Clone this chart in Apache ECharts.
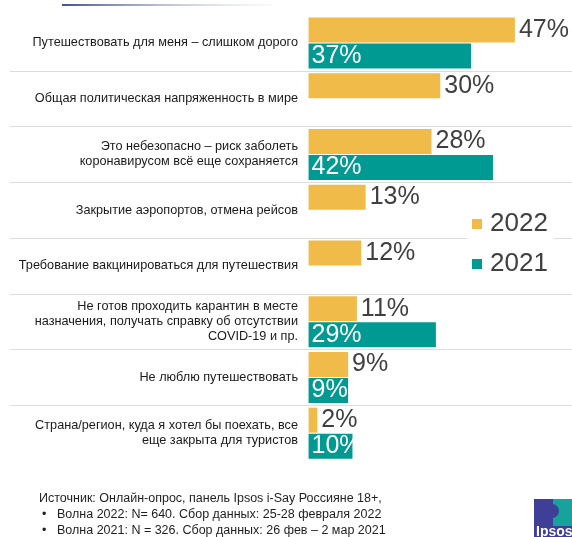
<!DOCTYPE html>
<html>
<head>
<meta charset="utf-8">
<script src="https://cdn.jsdelivr.net/npm/echarts@6/dist/echarts.min.js"></script>
<style>
  html, body { margin: 0; padding: 0; background: #fff; }
  #chart { width: 572px; height: 537px; }
</style>
</head>
<body>
<div id="chart"></div>
<script>
// survey answers, top to bottom
const categories = [
  'Путешествовать для меня – слишком дорого',
  'Общая политическая напряженность в мире',
  'Это небезопасно – риск заболеть\nкоронавирусом всё еще сохраняется',
  'Закрытие аэропортов, отмена рейсов',
  'Требование вакцинироваться для путешествия',
  'Не готов проходить карантин в месте\nназначения, получать справку об отсутствии\nCOVID-19 и пр.',
  'Не люблю путешествовать',
  'Страна/регион, куда я хотел бы поехать, все\nеще закрыта для туристов'
];
const values2022 = [47, 30, 28, 13, 12, 11, 9, 2];
const values2021 = [37, null, 42, null, null, 29, 9, 10];
const seriesNames = ['2022', '2021'];

const footerLines = [
  'Источник: Онлайн-опрос, панель Ipsos i-Say Россияне 18+,',
  'Волна 2022: N= 640. Сбор данных: 25-28 февраля 2022',
  'Волна 2021: N = 326. Сбор данных: 26 фев – 2 мар 2021'
];

const FONT = '"Liberation Sans", Arial, sans-serif';
const YELLOW = '#F0BB48';
const TEAL = '#009A93';

const chart = echarts.init(document.getElementById('chart'));

const footerGraphics = footerLines.map((line, i) => ({
  type: 'text',
  left: i === 0 ? 39 : 57,
  top: 492 + i * 16,
  style: { text: line, font: '12.5px ' + FONT, fill: '#1e1e1e' }
}));
[1, 2].forEach(i => footerGraphics.push({
  type: 'text',
  left: 42,
  top: 492 + i * 16,
  style: { text: '•', font: '12.5px ' + FONT, fill: '#1e1e1e' }
}));

const option = {
  animation: false,
  textStyle: { fontFamily: FONT },
  grid: { left: 10, right: 0, top: 15, bottom: 76 },
  xAxis: {
    type: 'value',
    min: -68,
    max: 60,
    show: false
  },
  yAxis: {
    type: 'category',
    data: categories,
    inverse: true,
    offset: -296,
    axisLine: { show: false, onZero: false },
    axisTick: { show: false },
    axisLabel: {
      fontSize: 12.7,
      color: '#1a1a1a',
      lineHeight: 15,
      margin: 8
    },
    splitLine: {
      show: true,
      showMinLine: false,
      showMaxLine: false,
      lineStyle: { color: '#dcdcdc', width: 1 }
    }
  },
  legend: {
    orient: 'vertical',
    left: 467,
    top: 209,
    icon: 'rect',
    itemWidth: 10,
    itemHeight: 10,
    itemGap: 14,
    itemStyle: { borderWidth: 0 },
    backgroundColor: '#fff',
    padding: [2, 6, 2, 5],
    data: seriesNames,
    textStyle: { fontSize: 26, color: '#404040', fontFamily: FONT, padding: [0, 0, 0, 3] }
  },
  series: [
    {
      name: seriesNames[0],
      type: 'bar',
      data: values2022,
      barWidth: 25,
      barGap: '4%',
      itemStyle: { color: YELLOW },
      label: {
        show: true,
        position: 'right',
        distance: 4,
        formatter: '{c}%',
        fontSize: 25,
        color: '#404040'
      }
    },
    {
      name: seriesNames[1],
      type: 'bar',
      data: values2021,
      barWidth: 25,
      barGap: '4%',
      itemStyle: { color: TEAL },
      label: {
        show: true,
        position: 'insideLeft',
        distance: 3,
        formatter: '{c}%',
        fontSize: 25,
        color: '#fff'
      }
    }
  ],
  graphic: [
    {
      type: 'rect',
      shape: { x: 62, y: 4, width: 210, height: 2 },
      style: {
        fill: {
          type: 'linear', x: 0, y: 0, x2: 1, y2: 0,
          colorStops: [
            { offset: 0, color: '#46528e' },
            { offset: 1, color: 'rgba(225,227,235,0.2)' }
          ]
        }
      }
    },
    ...footerGraphics,
    // Ipsos logo, cut by the bottom-right corner
    { type: 'rect', shape: { x: 534, y: 499, width: 38, height: 38 }, style: { fill: '#3f3f97' } },
    { type: 'rect', shape: { x: 553, y: 499, width: 19, height: 27 }, style: { fill: '#17a39b' } },
    { type: 'circle', shape: { cx: 552, cy: 511, r: 7 }, style: { fill: '#3f3f97' } },
    {
      type: 'text', left: 536, top: 525,
      style: { text: 'Ipsos', font: 'bold 14px ' + FONT, fill: '#fff' }
    }
  ]
};

chart.setOption(option);
</script>
</body>
</html>
